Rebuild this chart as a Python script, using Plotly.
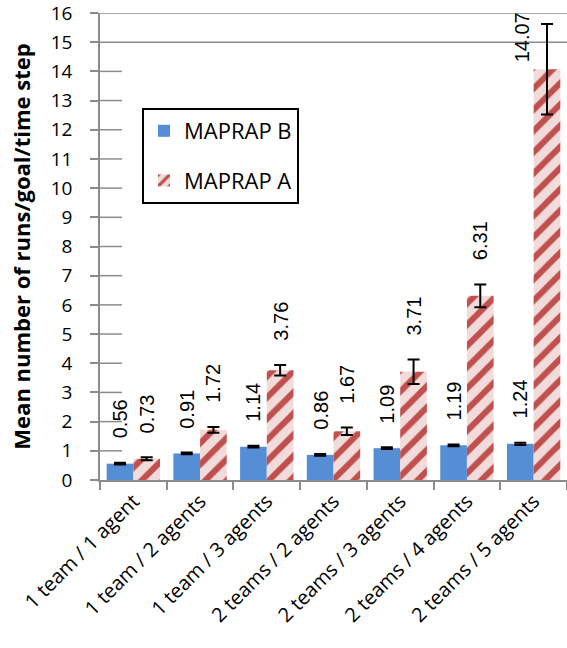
import plotly.graph_objects as go

categories = ["1 team / 1 agent", "1 team / 2 agents", "1 team / 3 agents",
              "2 teams / 2 agents", "2 teams / 3 agents", "2 teams / 4 agents",
              "2 teams / 5 agents"]
maprap_b = [0.56, 0.91, 1.14, 0.86, 1.09, 1.19, 1.24]
maprap_b_err = [0.03, 0.03, 0.03, 0.03, 0.03, 0.03, 0.04]
maprap_a = [0.73, 1.72, 3.76, 1.67, 3.71, 6.31, 14.07]
maprap_a_err = [0.05, 0.10, 0.18, 0.13, 0.42, 0.39, 1.55]
y_ticks = list(range(0, 17))

W, H = 567, 648
ML, MR, MT, MB = 100, 0, 13, 168
plot_w = W - ML - MR
plot_h = H - MT - MB
y_max = 16
bargap = 0.2
cat_w = plot_w / len(categories)
bar_w = cat_w * (1 - bargap) / 2
px_per_unit = plot_h / y_max

AX = "#8c8c8c"
TICKFONT = "Open Sans"
LABELFONT = "Liberation Sans"

fig = go.Figure()
fig.add_trace(go.Bar(
    x=categories, y=maprap_b, name="MAPRAP B", legendgroup="b",
    marker=dict(color="#558ED5", line=dict(width=0)),
    error_y=dict(type="data", array=maprap_b_err, color="black", thickness=2, width=6),
))
fig.add_trace(go.Bar(
    x=categories, y=maprap_a, name="MAPRAP A", legendgroup="a",
    marker=dict(color="#F2DCDB", line=dict(width=0),
                pattern=dict(shape="/", fgcolor="#C0504D", bgcolor="#F2DCDB", fgopacity=1,
                             size=15, solidity=0.4, fillmode="overlay")),
    error_y=dict(type="data", array=maprap_a_err, color="black", thickness=2, width=6),
))

# value labels
label_gap = 22
label_len = 50
for series, errs, side in ((maprap_b, maprap_b_err, -1), (maprap_a, maprap_a_err, 1)):
    for cat, v, e in zip(categories, series, errs):
        top_px = (v + e) * px_per_unit + label_gap + label_len
        xs = side * bar_w / 2
        y = v + e
        ys = label_gap
        if top_px > plot_h:
            xs = side * bar_w / 2 - 25
            y = v
            ys = 5
        fig.add_annotation(x=cat, y=y, text=f"{v:.2f}", showarrow=False,
                           textangle=-90, xanchor="center", yanchor="bottom",
                           xshift=xs, yshift=ys,
                           font=dict(family=LABELFONT, size=20, color="black"))

# gridlines (top) and inside tick marks
for t in y_ticks:
    if t >= 15:
        fig.add_shape(type="line", xref="paper", yref="y", x0=0, x1=1, y0=t, y1=t,
                      line=dict(color=AX, width=1.5), layer="below")
    elif t > 0:
        fig.add_shape(type="line", xref="paper", yref="y", x0=0, x1=22 / plot_w, y0=t, y1=t,
                      line=dict(color=AX, width=1.5), layer="below")

legend_top = 108
fig.update_layout(
    width=W, height=H,
    margin=dict(l=ML, r=MR, t=MT, b=MB, autoexpand=False),
    paper_bgcolor="white", plot_bgcolor="white",
    barmode="group", bargap=bargap, bargroupgap=0,
    font=dict(family=TICKFONT, color="black"),
    showlegend=True,
    legend=dict(x=(142 - ML) / plot_w, y=(H - MB - legend_top) / plot_h,
                xanchor="left", yanchor="top",
                bordercolor="black", borderwidth=2, bgcolor="white",
                font=dict(family=TICKFONT, size=22, color="black"),
                tracegroupgap=18, traceorder="grouped"),
    xaxis=dict(type="category", categoryorder="array", categoryarray=categories,
               automargin=False,
               showline=True, linecolor=AX, linewidth=1.5,
               ticks="outside", tickson="boundaries", ticklen=8, tickcolor=AX, tickwidth=1.5,
               tickangle=-45, tickfont=dict(family=TICKFONT, size=20, color="black"),
               showgrid=False, fixedrange=True),
    yaxis=dict(range=[0, y_max], tickvals=y_ticks, automargin=False,
               ticklabeloverflow="allow",
               showline=True, linecolor=AX, linewidth=1.5,
               ticks="outside", ticklen=8, tickcolor=AX, tickwidth=1.5,
               tickfont=dict(family=TICKFONT, size=19, color="black"),
               ticklabelstandoff=14,
               showgrid=False, zeroline=False,
               title=dict(text="<b>Mean number of runs/goal/time step</b>",
                          font=dict(family=TICKFONT, size=22, color="black"), standoff=14)),
)

fig.write_html("out.html", config={"displayModeBar": False},
               post_script="document.body.style.margin='0';")
